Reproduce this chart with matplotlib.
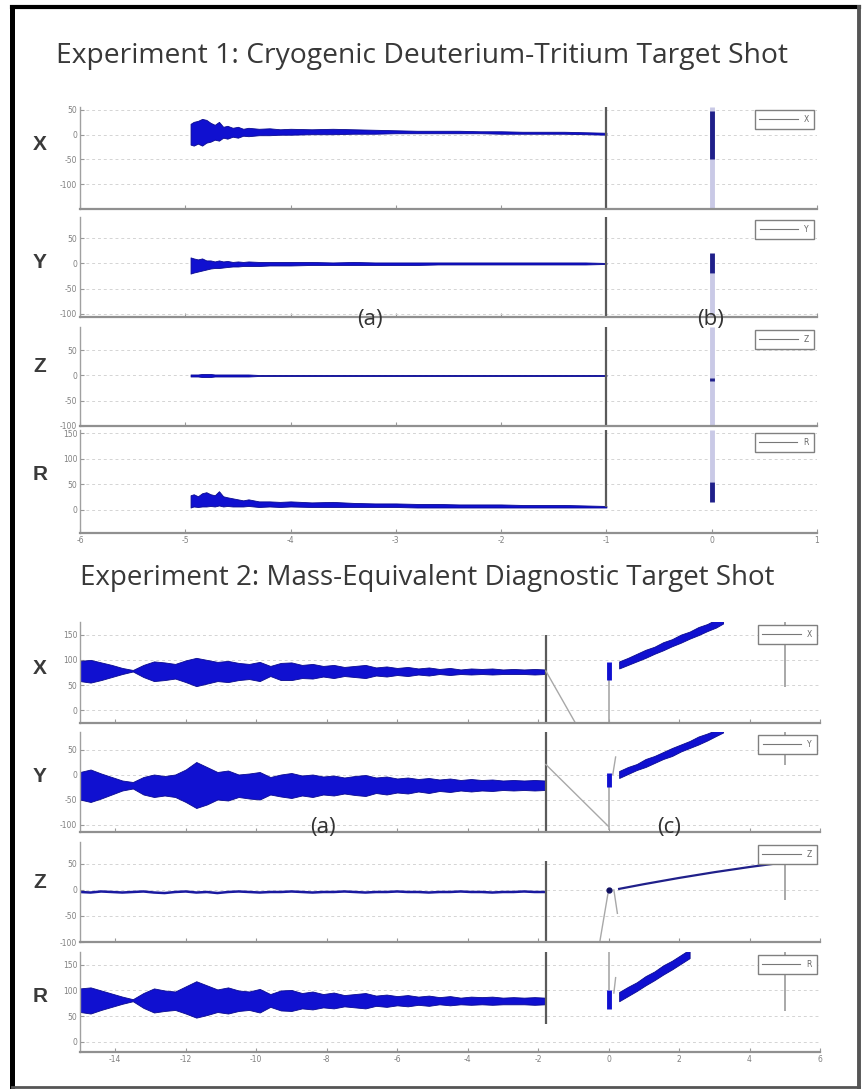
import matplotlib
matplotlib.use("Agg")
import matplotlib.pyplot as plt
from matplotlib.lines import Line2D

# ---------------- DATA ----------------
panel_names = ["X", "Y", "Z", "R"]

# Experiment 1 (time axis -6 .. 1)
exp1_xticks = [-6, -5, -4, -3, -2, -1, 0, 1]
exp1_ylims = [(-150, 56), (-106, 92), (-100, 96), (-46, 156)]
exp1_yticks = [[-100, -50, 0, 50], [-100, -50, 0, 50], [-100, -50, 0, 50], [0, 50, 100, 150]]
t1 = [-4.95, -4.92, -4.88, -4.84, -4.80, -4.76, -4.72, -4.68, -4.64, -4.60, -4.55,
      -4.50, -4.45, -4.40, -4.30, -4.20, -4.10, -4.00, -3.80, -3.60, -3.40, -3.20,
      -3.00, -2.80, -2.60, -2.40, -2.20, -2.00, -1.80, -1.60, -1.40, -1.20, -1.00]
x1_hi = [22, 26, 28, 32, 30, 24, 20, 26, 16, 18, 14, 16, 12, 14, 12, 13, 11, 12, 11, 12, 11,
         10, 9, 8, 8, 8, 7, 7, 6, 6, 6, 5, 4]
x1_lo = [-20, -22, -18, -22, -16, -14, -10, -12, -6, -8, -4, -6, -2, -3, -1, -1, 0, 0, 1, 1, 2,
         2, 3, 3, 3, 3, 3, 2, 2, 2, 2, 1, 0]
y1_hi = [12, 10, 8, 10, 6, 6, 4, 6, 4, 5, 3, 4, 3, 4, 3, 3, 3, 3, 3, 2, 3, 2, 2, 2, 2, 2, 2,
         2, 2, 2, 2, 2, 1]
y1_lo = [-20, -18, -16, -14, -12, -10, -9, -9, -8, -7, -6, -6, -5, -5, -5, -4, -4, -4, -3, -3,
         -3, -3, -3, -3, -2, -2, -2, -2, -2, -2, -2, -2, -1]
z1_hi = [2, 2, 2, 3, 3, 3, 2, 2, 2, 2, 2, 2, 2, 2, 1, 1, 1, 1, 1, 1, 1, 1, 1, 1, 1, 1, 1, 1,
         1, 1, 1, 1, 1]
z1_lo = [-2, -2, -2, -3, -3, -3, -2, -2, -2, -2, -2, -2, -2, -2, -1, -1, -1, -1, -1, -1, -1,
         -1, -1, -1, -1, -1, -1, -1, -1, -1, -1, -1, -1]
r1_hi = [28, 30, 26, 32, 34, 30, 28, 36, 26, 24, 22, 20, 18, 20, 16, 16, 15, 16, 14, 15, 13,
         12, 12, 11, 11, 10, 10, 10, 9, 9, 9, 8, 7]
r1_lo = [4, 6, 5, 6, 6, 7, 6, 8, 6, 7, 6, 6, 6, 7, 5, 6, 5, 6, 5, 5, 5, 5, 5, 4, 4, 4, 4, 4,
         4, 4, 4, 4, 4]
exp1_hi = [x1_hi, y1_hi, z1_hi, r1_hi]
exp1_lo = [x1_lo, y1_lo, z1_lo, r1_lo]
exp1_marker_t = -1.0
exp1_marker_span = [(-150, 56), (-106, 92), (-100, 96), (5, 156)]
exp1_shot_t = 0.0
exp1_shot_dark = [(-50, 48), (-18, 20), (-10, -5), (14, 55)]
exp1_shot_light = [(-150, 56), (-106, -18), (-100, 96), (55, 156)]

# Experiment 2 (time axis -15 .. 6)
exp2_xticks = [-14, -12, -10, -8, -6, -4, -2, 0, 2, 4, 6]
exp2_ylims = [(-25, 175), (-115, 85), (-100, 92), (-20, 175)]
exp2_yticks = [[0, 50, 100, 150], [-100, -50, 0, 50], [-100, -50, 0, 50], [0, 50, 100, 150]]
t2 = [-15.0, -14.7, -14.4, -14.1, -13.8, -13.5, -13.2, -12.9, -12.6, -12.3, -12.0, -11.7,
      -11.4, -11.1, -10.8, -10.5, -10.2, -9.9, -9.6, -9.3, -9.0, -8.7, -8.4, -8.1, -7.8,
      -7.5, -7.2, -6.9, -6.6, -6.3, -6.0, -5.7, -5.4, -5.1, -4.8, -4.5, -4.2, -3.9, -3.6,
      -3.3, -3.0, -2.7, -2.4, -2.1, -1.8]
x2_hi = [98, 100, 95, 90, 84, 80, 90, 97, 95, 92, 99, 104, 100, 96, 98, 94, 92, 96, 88, 94,
         95, 90, 92, 88, 90, 86, 88, 90, 85, 87, 84, 86, 83, 85, 82, 84, 81, 83, 82, 83, 81,
         82, 81, 82, 81]
x2_lo = [58, 55, 60, 66, 72, 77, 66, 58, 60, 63, 56, 48, 53, 58, 56, 60, 62, 58, 68, 60, 60,
         64, 63, 67, 64, 68, 66, 64, 69, 67, 70, 68, 71, 69, 72, 70, 72, 71, 72, 71, 72, 72,
         72, 71, 72]
y2_hi = [5, 10, 2, -5, -12, -15, -5, 0, -3, 0, 10, 25, 15, 5, 8, 0, 2, 5, -5, 0, 3, -2, 0,
         -4, -2, -6, -3, -1, -6, -4, -8, -6, -9, -7, -10, -8, -11, -9, -11, -10, -12, -11,
         -12, -11, -12]
y2_lo = [-50, -55, -48, -40, -32, -28, -40, -45, -42, -45, -55, -67, -60, -50, -52, -45,
         -48, -50, -40, -44, -47, -42, -45, -40, -42, -38, -41, -43, -37, -40, -36, -38, -34,
         -37, -33, -35, -32, -34, -32, -33, -31, -32, -31, -32, -31]
z2_line = [-4, -5, -3, -4, -5, -4, -3, -5, -6, -4, -3, -5, -4, -6, -4, -3, -4, -5, -4, -4,
           -3, -4, -5, -4, -4, -3, -4, -5, -4, -4, -3, -4, -4, -5, -4, -4, -3, -4, -4, -5,
           -4, -4, -3, -4, -4]
r2_hi = [104, 106, 100, 94, 88, 83, 95, 104, 100, 98, 108, 118, 110, 102, 106, 100, 98, 103,
         93, 100, 101, 95, 98, 93, 96, 91, 93, 95, 90, 92, 89, 91, 88, 90, 87, 89, 86, 88, 87,
         88, 86, 87, 86, 87, 86]
r2_lo = [58, 55, 62, 68, 74, 79, 66, 57, 60, 62, 55, 47, 52, 58, 55, 60, 62, 57, 68, 61, 60,
         65, 63, 67, 65, 69, 67, 65, 70, 68, 71, 69, 72, 70, 73, 71, 73, 72, 73, 72, 73, 73,
         73, 72, 73]
exp2_hi = [x2_hi, y2_hi, None, r2_hi]
exp2_lo = [x2_lo, y2_lo, None, r2_lo]

t2_post = [0.3, 0.55, 0.8, 1.05, 1.3, 1.55, 1.8, 2.05, 2.3, 2.55, 2.8, 3.05, 3.25]
x2_post_hi = [97, 104, 112, 120, 126, 135, 141, 150, 156, 165, 171, 180, 184]
x2_post_lo = [83, 90, 97, 104, 112, 119, 127, 134, 142, 149, 157, 164, 172]
y2_post_hi = [7, 15, 21, 31, 37, 45, 53, 60, 67, 76, 82, 89, 92]
y2_post_lo = [-7, 1, 9, 15, 23, 31, 37, 46, 53, 60, 68, 77, 84]
t2_post_r = [0.3, 0.55, 0.8, 1.05, 1.3, 1.55, 1.8, 2.05, 2.3]
r2_post_hi = [97, 107, 116, 128, 137, 149, 158, 169, 180]
r2_post_lo = [79, 89, 99, 110, 120, 131, 141, 152, 163]
t2_post_z = [0.3, 1.0, 2.0, 3.0, 4.0, 5.0]
z2_post = [2, 11, 23, 34, 44, 53]

exp2_marker_t = -1.78
exp2_marker_span = [(-25, 150), (-115, 85), (-100, 55), (34, 175)]
exp2_shot_dark = [(60, 95), (-24, 4), (-2, 2), (64, 100)]
exp2_drop_x = [(-1.78, -0.9), (-1.78, 0.0), (-0.25, 0.0), None]
exp2_drop_y = [(78, -30), (20, -104), (-100, 0), None]
exp2_zero_gray = [(-25, 60), (-110, -24), None, (100, 175)]
exp2_blip_x = [None, (0.12, 0.2), (0.15, 0.25), (0.15, 0.2)]
exp2_blip_y = [None, (0, 35), (0, -45), (95, 125)]
exp2_end_t = 5.0
exp2_end_span = [(46, 175), (20, 85), (-20, 53), (60, 175)]

# ---------------- LAYOUT ----------------
W, H = 864, 1089
fig = plt.figure(figsize=(W / 100, H / 100), dpi=100)
fig.patch.set_facecolor("white")

BLUE = "#1010d0"
NAVY = "#20208a"
LIGHT = "#c9c9e6"
DGRAY = "#5a5a5a"
LGRAY = "#a8a8a8"


def add_ax(l, t, r, b):
    return fig.add_axes([l / W, 1 - b / H, (r - l) / W, (b - t) / H])


def style(ax, xlim, ylim, yticks, xticks, show_x, label):
    ax.set_xlim(xlim)
    ax.set_ylim(ylim)
    ax.patch.set_alpha(0)
    ax.set_yticks(yticks)
    ax.set_yticklabels([str(v) for v in yticks])
    ax.set_xticks(xticks)
    if show_x:
        ax.set_xticklabels([str(v) for v in xticks])
    else:
        ax.tick_params(axis="x", length=0, labelbottom=False)
    for s in ["top", "right"]:
        ax.spines[s].set_visible(False)
    ax.spines["left"].set_color("#a0a0a0")
    ax.spines["left"].set_linewidth(1.0)
    ax.spines["bottom"].set_color("#909090")
    ax.spines["bottom"].set_linewidth(1.6)
    ax.tick_params(direction="in", length=3, color="#999999", labelsize=5.5,
                   labelcolor="#808080", pad=2)
    ax.grid(axis="y", color="#d4d4d4", ls=(0, (3, 3)), lw=0.7)
    ax.set_axisbelow(True)
    leg = ax.legend([Line2D([], [], color="#777777", lw=0.8)], [label], loc="upper right",
                    fontsize=5.5, handlelength=5.0, frameon=True, fancybox=False,
                    borderpad=0.6, borderaxespad=0.45, framealpha=1, labelcolor="#666666")
    leg.get_frame().set_edgecolor("#808080")
    leg.get_frame().set_linewidth(1.0)
    leg.set_zorder(5)


# Experiment 1 axes
exp1_boxes = [(80, 107, 817, 209), (80, 217, 817, 317), (80, 327, 817, 426), (80, 430, 817, 533)]
exp1_label_y = [145, 262, 367, 475]
for i, (box, name) in enumerate(zip(exp1_boxes, panel_names)):
    ax = add_ax(*box)
    style(ax, (-6, 1), exp1_ylims[i], exp1_yticks[i], exp1_xticks, i == 3, name)
    ax.fill_between(t1, exp1_lo[i], exp1_hi[i], color=BLUE, lw=0.6, edgecolor="#0a0a90")
    ax.vlines(exp1_marker_t, *exp1_marker_span[i], color=DGRAY, lw=1.6)
    ax.vlines(exp1_shot_t, *exp1_shot_light[i], color=LIGHT, lw=3.5)
    ax.vlines(exp1_shot_t, *exp1_shot_dark[i], color=NAVY, lw=3.5)
    fig.text(40 / W, 1 - exp1_label_y[i] / H, name, ha="center", va="center",
             fontsize=15, fontweight="bold", color="#3a3a3a", family="Liberation Sans")

# Experiment 2 axes
exp2_boxes = [(80, 622, 820, 723), (80, 732, 820, 832), (80, 842, 820, 942), (80, 952, 820, 1052)]
exp2_label_y = [668, 777, 883, 997]
for i, (box, name) in enumerate(zip(exp2_boxes, panel_names)):
    ax = add_ax(*box)
    style(ax, (-15, 6), exp2_ylims[i], exp2_yticks[i], exp2_xticks, i == 3, name)
    if exp2_hi[i] is not None:
        ax.fill_between(t2, exp2_lo[i], exp2_hi[i], color=BLUE, lw=0.6, edgecolor="#0a0a90")
    else:
        ax.plot(t2, z2_line, color="#1a1aa0", lw=1.8)
    ax.vlines(exp2_marker_t, *exp2_marker_span[i], color=DGRAY, lw=1.6)
    if exp2_drop_x[i] is not None:
        ax.plot(exp2_drop_x[i], exp2_drop_y[i], color=LGRAY, lw=1.0)
    if exp2_zero_gray[i] is not None:
        ax.vlines(0, *exp2_zero_gray[i], color=LGRAY, lw=1.2)
    if exp2_blip_x[i] is not None:
        ax.plot(exp2_blip_x[i], exp2_blip_y[i], color=LGRAY, lw=1.0)
    ax.vlines(exp2_end_t, *exp2_end_span[i], color=LGRAY, lw=1.4)
    if i == 2:
        ax.plot([0], [0], "o", color="#101060", ms=3.5)
    else:
        ax.vlines(0, *exp2_shot_dark[i], color=BLUE, lw=3.5)
    if i == 0:
        ax.fill_between(t2_post, x2_post_lo, x2_post_hi, color=BLUE, lw=0.6, edgecolor="#0a0a90")
    elif i == 1:
        ax.fill_between(t2_post, y2_post_lo, y2_post_hi, color=BLUE, lw=0.6, edgecolor="#0a0a90")
    elif i == 2:
        ax.plot(t2_post_z, z2_post, color=NAVY, lw=1.6)
    else:
        ax.fill_between(t2_post_r, r2_post_lo, r2_post_hi, color=BLUE, lw=0.6, edgecolor="#0a0a90")
    fig.text(40 / W, 1 - exp2_label_y[i] / H, name, ha="center", va="center",
             fontsize=15, fontweight="bold", color="#3a3a3a", family="Liberation Sans")

# Titles and annotations
fig.text(56 / W, 1 - 56 / H, "Experiment 1: Cryogenic Deuterium-Tritium Target Shot",
         ha="left", va="center", fontsize=20.3, color="#383838", family="Open Sans")
fig.text(80 / W, 1 - 578 / H, "Experiment 2: Mass-Equivalent Diagnostic Target Shot",
         ha="left", va="center", fontsize=20, color="#383838", family="Open Sans")
for (px, py, s) in [(370, 320, "(a)"), (711, 319, "(b)"), (323, 828, "(a)"), (669, 828, "(c)")]:
    fig.text(px / W, 1 - py / H, s, ha="center", va="center", fontsize=16,
             color="#333333", family="Open Sans", zorder=10)

# Outer frame
def fline(x0, y0, x1, y1, color, lw):
    fig.add_artist(Line2D([x0 / W, x1 / W], [1 - y0 / H, 1 - y1 / H], color=color, lw=lw,
                          transform=fig.transFigure, solid_capstyle="projecting"))

fline(12, 7, 859, 7, "black", 3.0)
fline(12, 7, 12, 1087, "black", 3.6)
fline(859, 7, 859, 1087, "#555555", 2.8)
fline(12, 1087, 859, 1087, "#555555", 2.0)

fig.savefig("out.png", dpi=100, facecolor="white")
